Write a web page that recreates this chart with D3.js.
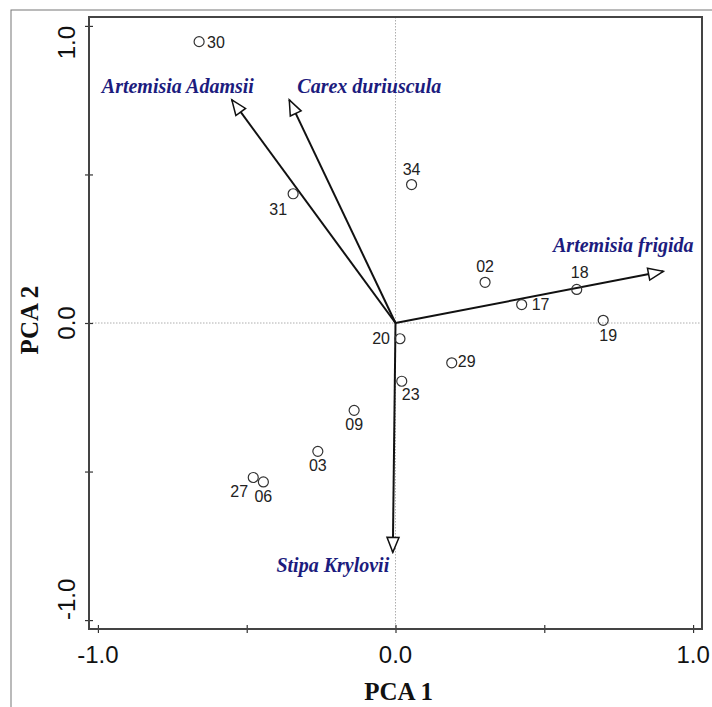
<!DOCTYPE html>
<html>
<head>
<meta charset="utf-8">
<script src="https://cdn.jsdelivr.net/npm/d3@7"></script>
<style>
  body { margin: 0; background: #fff; }
  svg { display: block; }
  .pt-label { font-family: "Liberation Sans", Arial, sans-serif; font-size: 16px; fill: #222; }
  .tick-label { font-family: "Liberation Sans", Arial, sans-serif; font-size: 24px; fill: #111; }
  .axis-title { font-family: "Liberation Serif", "Times New Roman", serif; font-size: 25px; font-weight: bold; fill: #111; }
  .sp-label { font-family: "Liberation Serif", "Times New Roman", "DejaVu Serif", serif; font-size: 20px; font-weight: bold; font-style: italic; fill: #1c1c7e; }
</style>
</head>
<body>
<svg width="712" height="707"></svg>
<script>
const width = 712, height = 707;
const svg = d3.select("svg");

// Data: sample scores (PCA 1, PCA 2)
const sampleIds = ["30", "31", "34", "02", "17", "18", "19", "20", "29", "23", "09", "03", "27", "06"];
const pca1 = [-0.660, -0.344, 0.054, 0.301, 0.424, 0.609, 0.698, 0.015, 0.189, 0.021, -0.139, -0.261, -0.478, -0.444];
const pca2 = [0.947, 0.435, 0.466, 0.137, 0.062, 0.113, 0.009, -0.053, -0.134, -0.196, -0.294, -0.432, -0.520, -0.535];

// Data: species loadings (arrow tips)
const species = ["Artemisia Adamsii", "Carex duriuscula", "Artemisia frigida", "Stipa Krylovii"];
const speciesX = [-0.550, -0.357, 0.900, -0.009];
const speciesY = [0.751, 0.751, 0.174, -0.772];

// Axis ticks / labels
const tickValues = [-1, -0.5, 0, 0.5, 1];
const tickLabels = ["-1.0", "0.0", "1.0"];
const labelValues = [-1, 0, 1];

// --- Layout ---
const box = { left: 89, right: 702, top: 17, bottom: 629 };
const x = d3.scaleLinear().domain([-1.03, 1.03]).range([box.left, box.right]);
const y = d3.scaleLinear().domain([-1.03, 1.03]).range([box.bottom, box.top]);

// outer frame (cut off at right/bottom like the source image)
svg.append("rect")
  .attr("x", 11).attr("y", 10).attr("width", 900).attr("height", 900)
  .attr("fill", "none").attr("stroke", "#777").attr("stroke-width", 1);

// zero lines
svg.append("line")
  .attr("x1", x(0)).attr("x2", x(0)).attr("y1", box.top).attr("y2", box.bottom)
  .attr("stroke", "#999").attr("stroke-width", 0.8).attr("stroke-dasharray", "1.5,1.5");
svg.append("line")
  .attr("x1", box.left).attr("x2", box.right).attr("y1", y(0)).attr("y2", y(0))
  .attr("stroke", "#999").attr("stroke-width", 0.8).attr("stroke-dasharray", "1.5,1.5");

// ticks crossing the frame
const xAxis = svg.append("g")
  .attr("transform", `translate(0,${box.bottom - 4})`)
  .call(d3.axisBottom(x).tickValues(tickValues).tickSize(8).tickFormat(""));
const yAxis = svg.append("g")
  .attr("transform", `translate(${box.left + 4},0)`)
  .call(d3.axisLeft(y).tickValues(tickValues).tickSize(8).tickFormat(""));
[xAxis, yAxis].forEach(g => {
  g.select(".domain").remove();
  g.selectAll(".tick line").attr("stroke", "#333").attr("stroke-width", 1.2);
});

// plot box
svg.append("rect")
  .attr("x", box.left).attr("y", box.top)
  .attr("width", box.right - box.left).attr("height", box.bottom - box.top)
  .attr("fill", "none").attr("stroke", "#444").attr("stroke-width", 2);

// tick labels
svg.append("g").selectAll("text")
  .data(labelValues)
  .join("text")
  .attr("class", "tick-label")
  .attr("x", d => x(d)).attr("y", 663)
  .attr("text-anchor", "middle")
  .text((d, i) => tickLabels[i]);

svg.append("g").selectAll("text")
  .data(labelValues)
  .join("text")
  .attr("class", "tick-label")
  .attr("transform", d => `translate(75,${y(d)}) rotate(-90)`)
  .attr("text-anchor", d => d === 1 ? "end" : d === -1 ? "start" : "middle")
  .text((d, i) => tickLabels[i]);

// axis titles
svg.append("text").attr("class", "axis-title")
  .attr("x", x(0) + 3).attr("y", 700).attr("text-anchor", "middle")
  .text("PCA 1");
svg.append("text").attr("class", "axis-title")
  .attr("transform", `translate(38,${y(0) - 3}) rotate(-90)`).attr("text-anchor", "middle")
  .text("PCA 2");

// arrowhead
svg.append("defs").append("marker")
  .attr("id", "head")
  .attr("markerUnits", "userSpaceOnUse")
  .attr("viewBox", "-2 -8 19 16")
  .attr("markerWidth", 19).attr("markerHeight", 16)
  .attr("refX", 15).attr("refY", 0)
  .attr("orient", "auto")
  .append("path")
  .attr("d", "M0,-6L15,0L0,6Z")
  .attr("fill", "#fff").attr("stroke", "#111").attr("stroke-width", 1.5);

// species arrows
const spData = species.map((name, i) => ({ name, x: speciesX[i], y: speciesY[i] }));
svg.append("g").selectAll("line")
  .data(spData)
  .join("line")
  .attr("x1", x(0)).attr("y1", y(0))
  .attr("x2", d => x(d.x)).attr("y2", d => y(d.y))
  .attr("stroke", "#111").attr("stroke-width", 2)
  .attr("marker-end", "url(#head)");

// species label offsets from arrow tip [dx, dy]
const spOffset = {
  "Artemisia Adamsii": [-54, -7],
  "Carex duriuscula": [80, -7],
  "Artemisia frigida": [-40, -19],
  "Stipa Krylovii": [-60, 20]
};
svg.append("g").selectAll("text")
  .data(spData)
  .join("text")
  .attr("class", "sp-label")
  .attr("x", d => x(d.x) + spOffset[d.name][0])
  .attr("y", d => y(d.y) + spOffset[d.name][1])
  .attr("text-anchor", "middle")
  .text(d => d.name);

// sample points
const pts = sampleIds.map((id, i) => ({ id, x: pca1[i], y: pca2[i] }));
svg.append("g").selectAll("circle")
  .data(pts)
  .join("circle")
  .attr("cx", d => x(d.x)).attr("cy", d => y(d.y))
  .attr("r", 5)
  .attr("fill", "none").attr("stroke", "#333").attr("stroke-width", 1.2);

// point label placement [dx, dy, anchor]
const ptOffset = {
  "30": [8, 6, "start"], "31": [-15, 21, "middle"], "34": [0, -10, "middle"],
  "02": [0, -10, "middle"], "17": [10, 5, "start"], "18": [3, -11, "middle"],
  "19": [5, 21, "middle"], "20": [-10, 5, "end"], "29": [6, 4, "start"],
  "23": [9, 19, "middle"], "09": [0, 20, "middle"], "03": [0, 20, "middle"],
  "27": [-14, 20, "middle"], "06": [0, 20, "middle"]
};
svg.append("g").selectAll("text")
  .data(pts)
  .join("text")
  .attr("class", "pt-label")
  .attr("x", d => x(d.x) + ptOffset[d.id][0])
  .attr("y", d => y(d.y) + ptOffset[d.id][1])
  .attr("text-anchor", d => ptOffset[d.id][2])
  .text(d => d.id);
</script>
</body>
</html>
